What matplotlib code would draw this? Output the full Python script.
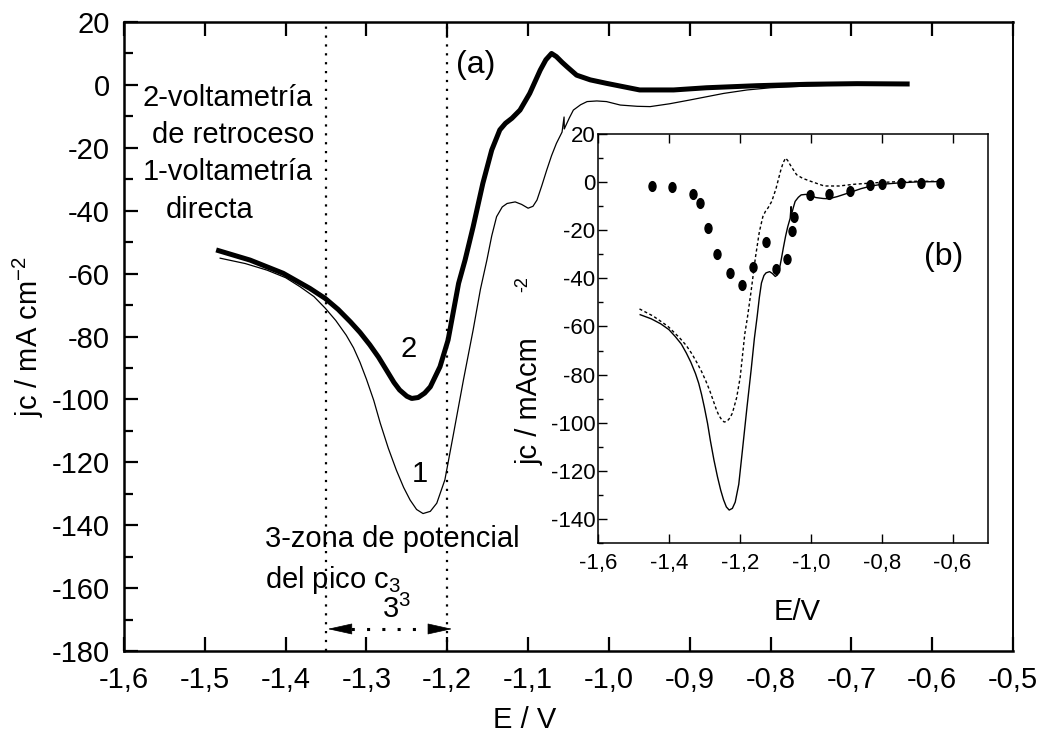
import numpy as np
import matplotlib
matplotlib.use('Agg')
import matplotlib.pyplot as plt
from matplotlib.path import Path
from matplotlib.ticker import MultipleLocator, FuncFormatter

plt.rcParams['font.family'] = ['Liberation Sans', 'DejaVu Sans']
plt.rcParams['mathtext.fontset'] = 'custom'
plt.rcParams['mathtext.rm'] = 'Liberation Sans'
plt.rcParams['mathtext.it'] = 'Liberation Sans:italic'
plt.rcParams['mathtext.bf'] = 'Liberation Sans:bold'
plt.rcParams['axes.unicode_minus'] = False

# ---- data ----
# curve 1: forward (direct) voltammetry, thin line
x1 = [-1.481, -1.450, -1.423, -1.400, -1.382, -1.365, -1.351, -1.338, -1.325, -1.316,
      -1.308, -1.300, -1.291, -1.283, -1.273, -1.263, -1.254, -1.246, -1.238, -1.230,
      -1.221, -1.213, -1.203, -1.193, -1.180, -1.168, -1.159, -1.151, -1.145, -1.139,
      -1.132, -1.126, -1.116, -1.108, -1.100, -1.094, -1.089, -1.083, -1.077, -1.071,
      -1.065, -1.058, -1.0555, -1.0552, -1.054, -1.049, -1.044, -1.035, -1.027, -1.015,
      -1.003, -0.986, -0.965, -0.949, -0.925, -0.900, -0.880, -0.858, -0.829, -0.800,
      -0.750, -0.700, -0.650, -0.630]
y1 = [-55.1, -56.8, -58.9, -61.3, -64.2, -67.3, -71.0, -74.9, -79.6, -83.6,
      -88.2, -93.6, -100.3, -107.5, -115.5, -122.5, -128.0, -132.0, -135.0, -136.3,
      -135.6, -133.0, -125.6, -111.9, -93.8, -77.9, -65.0, -55.7, -48.0, -41.9,
      -38.8, -37.7, -37.2, -38.0, -39.2, -38.6, -36.6, -32.0, -27.1, -22.5,
      -18.6, -15.0, -10.2, -14.0, -13.3, -10.5, -8.0, -6.3, -5.3, -5.1,
      -5.3, -6.4, -6.8, -6.9, -6.0, -4.8, -3.8, -2.7, -1.6, -0.9,
      -0.3, 0.1, 0.2, 0.3]

# curve 2: backward (reverse) voltammetry, thick line
x2 = [-1.483, -1.444, -1.403, -1.370, -1.351, -1.335, -1.320, -1.308, -1.296, -1.285,
      -1.275, -1.266, -1.259, -1.250, -1.244, -1.236, -1.228, -1.221, -1.209, -1.199,
      -1.186, -1.178, -1.168, -1.156, -1.145, -1.135, -1.128, -1.120, -1.110, -1.098,
      -1.085, -1.078, -1.071, -1.065, -1.058, -1.052, -1.040, -1.023, -1.003, -0.962,
      -0.920, -0.879, -0.817, -0.755, -0.693, -0.631]
y2 = [-52.7, -55.7, -59.9, -64.7, -67.9, -71.4, -75.3, -78.7, -82.6, -86.6,
      -90.8, -94.6, -97.0, -99.0, -99.7, -99.4, -98.0, -96.0, -89.6, -81.1,
      -63.1, -55.7, -45.1, -31.3, -20.7, -14.3, -12.2, -10.6, -8.0, -2.7,
      4.7, 8.0, 10.0, 9.0, 7.2, 5.8, 3.1, 1.6, 0.5, -1.6,
      -1.6, -0.9, -0.25, 0.2, 0.4, 0.3]

# inset (b): dotted points series
xd = [-1.447, -1.391, -1.333, -1.313, -1.289, -1.263, -1.228, -1.193, -1.163, -1.127,
      -1.099, -1.068, -1.054, -1.047, -1.003, -0.948, -0.888, -0.832, -0.798, -0.745,
      -0.688, -0.635]
yd = [-1.8, -2.1, -4.8, -8.7, -19.2, -29.7, -37.7, -42.9, -35.2, -25.0,
      -36.3, -31.9, -20.4, -14.5, -5.4, -4.8, -3.5, -1.2, -0.7, -0.4,
      -0.2, -0.2]

zone_limits = [-1.35, -1.20]
arrow_level = -173.0

main_xticks = np.round(np.arange(-1.6, -0.45, 0.1), 1)
main_yticks = np.arange(-180, 21, 20)
inset_xticks = np.round(np.arange(-1.6, -0.55, 0.2), 1)
inset_yticks = np.arange(-140, 21, 20)

fmt_comma = FuncFormatter(lambda v, p: ('%.1f' % v).replace('.', ','))
fmt_int = FuncFormatter(lambda v, p: '%d' % round(v))

fig = plt.figure(figsize=(10.42, 7.34), dpi=100)
ax = fig.add_axes([0.1190, 0.1131, 0.8532, 0.8569])

ax.plot(x1, y1, color='k', lw=0.9)
ax.plot(x2, y2, color='k', lw=3.6, solid_joinstyle='round')

for xv in zone_limits:
    ax.axvline(xv, color='k', lw=1.6, ls=(0, (1, 3)))

ax.plot([zone_limits[0] + 0.012, zone_limits[1] - 0.012], [arrow_level, arrow_level],
        color='k', lw=2.2, ls=(0, (1, 4)))
ax.annotate('', xy=(zone_limits[0] + 0.002, arrow_level), xytext=(zone_limits[0] + 0.022, arrow_level),
            arrowprops=dict(arrowstyle='-|>,head_length=0.9,head_width=0.2', color='k', lw=0.5,
                            mutation_scale=18, shrinkA=0, shrinkB=0))
ax.annotate('', xy=(zone_limits[1] + 0.006, arrow_level), xytext=(zone_limits[1] - 0.014, arrow_level),
            arrowprops=dict(arrowstyle='-|>,head_length=0.9,head_width=0.2', color='k', lw=0.5,
                            mutation_scale=18, shrinkA=0, shrinkB=0))

ax.set_xlim(-1.6, -0.5)
ax.set_ylim(-180, 20)
ax.set_xticks(main_xticks)
ax.set_yticks(main_yticks)
ax.yaxis.set_minor_locator(MultipleLocator(10))
ax.xaxis.set_major_formatter(fmt_comma)
ax.yaxis.set_major_formatter(fmt_int)
ax.tick_params(which='major', direction='in', length=10, width=1.6, labelsize=21)
ax.tick_params(which='minor', direction='in', length=6.5, width=1.6)
ax.tick_params(axis='x', top=True, bottom=True, pad=11)
ax.tick_params(axis='y', left=True, right=False, pad=10)
ax.tick_params(axis='y', which='minor', right=False)
for s in ['left', 'bottom', 'top']:
    ax.spines[s].set_linewidth(1.8)
ax.spines['right'].set_linewidth(1.4)

ax.set_xlabel('E / V', fontsize=21)
ax.xaxis.set_label_coords(0.451, -0.087)
ax.set_ylabel('jc / mA cm$^\\mathregular{-2}$', fontsize=21)
ax.yaxis.set_label_coords(-0.088, 0.5)

tfs = 21
ax.text(-1.5765, -6.7, '2-voltametría', fontsize=tfs, ha='left', va='baseline')
ax.text(-1.5654, -18.5, 'de retroceso', fontsize=tfs, ha='left', va='baseline')
ax.text(-1.5765, -30.2, '1-voltametría', fontsize=tfs, ha='left', va='baseline')
ax.text(-1.548, -42.3, 'directa', fontsize=tfs, ha='left', va='baseline')
ax.text(-1.1645, 6.3, '(a)', fontsize=23, ha='center', va='center')
ax.text(-1.2474, -86.4, '2', fontsize=tfs, ha='center', va='baseline')
ax.text(-1.2338, -126.2, '1', fontsize=tfs, ha='center', va='baseline')
ax.text(-1.4255, -146.8, '3-zona de potencial', fontsize=tfs, ha='left', va='baseline')
ax.text(-1.4255, -160.1, 'del pico c$_\\mathregular{3}$', fontsize=tfs, ha='left', va='baseline')
ax.text(-1.2812, -169.6, '3$^\\mathregular{3}$', fontsize=tfs, ha='left', va='baseline')

# ---- inset ----
axi = fig.add_axes([0.5739, 0.2602, 0.3743, 0.5572])
circ = Path.unit_circle()
ell = Path(circ.vertices * np.array([0.72, 1.0]), circ.codes)
axi.plot(x1, y1, color='k', lw=1.0)
axi.plot(x2, y2, color='k', lw=1.0, ls=(0, (2.2, 1.8)))
axi.plot(xd, yd, ls='none', marker=ell, ms=7, color='k')
axi.set_xlim(-1.6, -0.5)
axi.set_ylim(-150, 20)
axi.set_xticks(inset_xticks)
axi.set_yticks(inset_yticks)
axi.yaxis.set_minor_locator(MultipleLocator(10))
axi.xaxis.set_major_formatter(fmt_comma)
axi.yaxis.set_major_formatter(fmt_int)
axi.tick_params(which='major', direction='in', length=6.5, width=1.0, labelsize=16)
axi.tick_params(which='minor', direction='in', length=3.5, width=1.0)
axi.tick_params(axis='x', top=True, bottom=True, pad=7)
axi.tick_params(axis='y', left=True, right=False, pad=2)
axi.tick_params(axis='y', which='minor', right=False)
for s in axi.spines.values():
    s.set_linewidth(1.1)
axi.set_xlabel('E/V', fontsize=21)
axi.xaxis.set_label_coords(0.51, -0.135)
axi.set_ylabel('jc / mAcm', fontsize=21)
axi.yaxis.set_label_coords(-0.14, 0.347)
axi.text(-0.192, 0.633, '-2', fontsize=13, rotation=90, ha='center', va='center',
         transform=axi.transAxes)
axi.text(0.885, 0.70, '(b)', fontsize=23, ha='center', va='center', transform=axi.transAxes)

fig.savefig('out.png', dpi=100)
